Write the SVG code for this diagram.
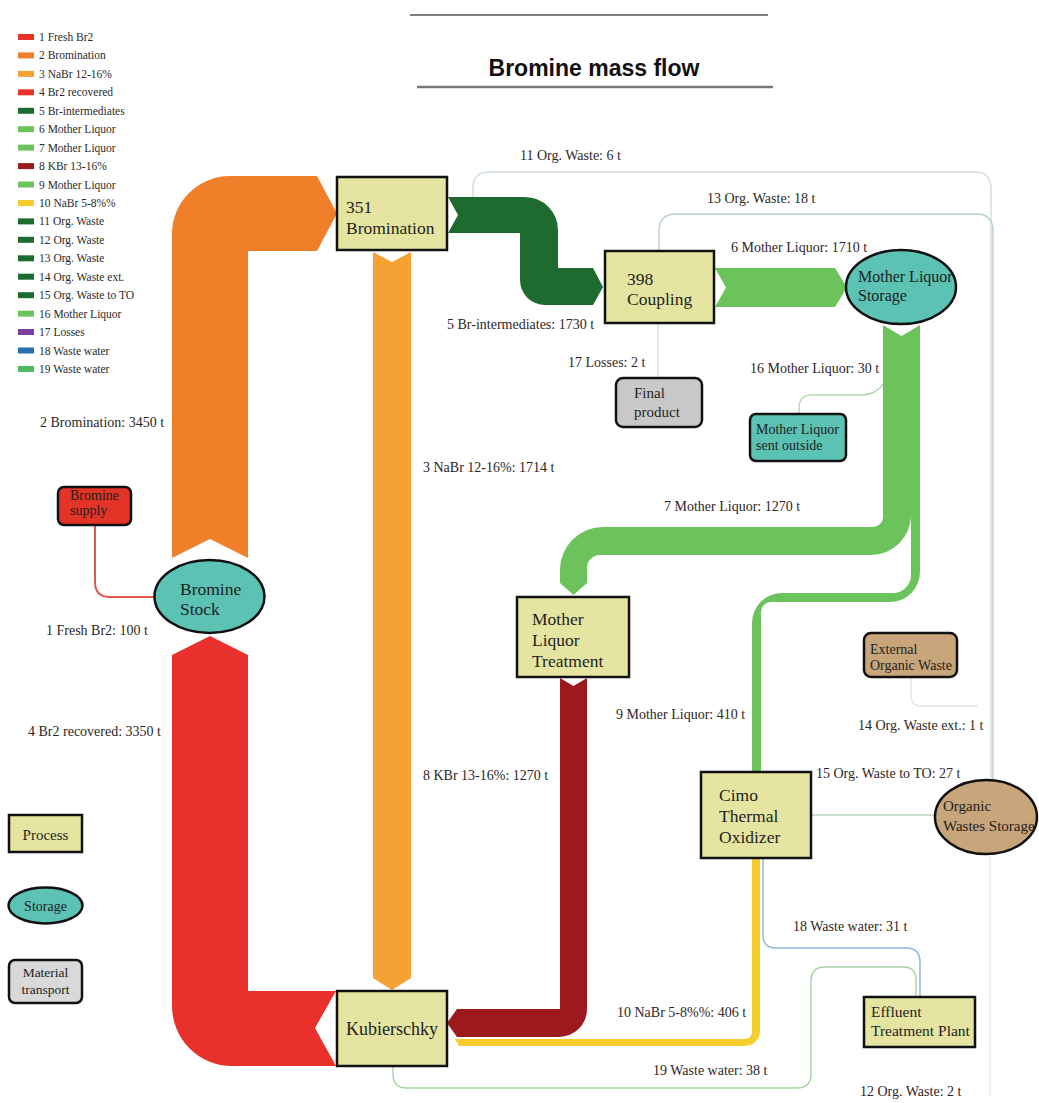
<svg xmlns="http://www.w3.org/2000/svg" width="1039" height="1103" viewBox="0 0 1039 1103">
<style>
.lbl{font-family:"Liberation Serif","Times New Roman",serif;font-size:14px;fill:#2e2626}
.lg{font-family:"Liberation Serif","Times New Roman",serif;font-size:11.5px;fill:#2a2a2a}
.nt{font-family:"Liberation Serif","Times New Roman",serif;fill:#1e1e1e}
.proc{fill:#e5e5a1;stroke:#111;stroke-width:2.5}
.stor{fill:#5bc2b4;stroke:#111;stroke-width:2.5}
.thin{fill:none;stroke-width:1.4}
</style>
<rect width="1039" height="1103" fill="#fff"/>
<g id="title">
<line x1="410" y1="15" x2="768" y2="15" stroke="#555" stroke-width="1.5"/>
<line x1="417" y1="87" x2="773" y2="87" stroke="#777" stroke-width="2.5"/>
<text x="594" y="76" text-anchor="middle" font-family="Liberation Sans,Arial,sans-serif" font-weight="bold" font-size="23" fill="#111">Bromine mass flow</text>
</g>
<g id="legend">
<rect x="18" y="34" width="16" height="6" fill="#e8312a"/><text class="lg" x="39" y="41">1 Fresh Br2</text>
<rect x="18" y="52.4" width="16" height="6" fill="#f07f2a"/><text class="lg" x="39" y="59.4">2 Bromination</text>
<rect x="18" y="70.9" width="16" height="6" fill="#f5a133"/><text class="lg" x="39" y="77.9">3 NaBr 12-16%</text>
<rect x="18" y="89.3" width="16" height="6" fill="#e8312a"/><text class="lg" x="39" y="96.3">4 Br2 recovered</text>
<rect x="18" y="107.8" width="16" height="6" fill="#1e6b30"/><text class="lg" x="39" y="114.8">5 Br-intermediates</text>
<rect x="18" y="126.2" width="16" height="6" fill="#6dc35b"/><text class="lg" x="39" y="133.2">6 Mother Liquor</text>
<rect x="18" y="144.6" width="16" height="6" fill="#6dc35b"/><text class="lg" x="39" y="151.6">7 Mother Liquor</text>
<rect x="18" y="163.1" width="16" height="6" fill="#9c1a1e"/><text class="lg" x="39" y="170.1">8 KBr 13-16%</text>
<rect x="18" y="181.5" width="16" height="6" fill="#6dc35b"/><text class="lg" x="39" y="188.5">9 Mother Liquor</text>
<rect x="18" y="200" width="16" height="6" fill="#f7cd2e"/><text class="lg" x="39" y="207">10 NaBr 5-8%%</text>
<rect x="18" y="218.4" width="16" height="6" fill="#1e6b30"/><text class="lg" x="39" y="225.4">11 Org. Waste</text>
<rect x="18" y="236.8" width="16" height="6" fill="#1e6b30"/><text class="lg" x="39" y="243.8">12 Org. Waste</text>
<rect x="18" y="255.3" width="16" height="6" fill="#1e6b30"/><text class="lg" x="39" y="262.3">13 Org. Waste</text>
<rect x="18" y="273.7" width="16" height="6" fill="#1e6b30"/><text class="lg" x="39" y="280.7">14 Org. Waste ext.</text>
<rect x="18" y="292.2" width="16" height="6" fill="#1e6b30"/><text class="lg" x="39" y="299.2">15 Org. Waste to TO</text>
<rect x="18" y="310.6" width="16" height="6" fill="#6dc35b"/><text class="lg" x="39" y="317.6">16 Mother Liquor</text>
<rect x="18" y="329" width="16" height="6" fill="#7b3f9e"/><text class="lg" x="39" y="336">17 Losses</text>
<rect x="18" y="347.5" width="16" height="6" fill="#2a70b0"/><text class="lg" x="39" y="354.5">18 Waste water</text>
<rect x="18" y="365.9" width="16" height="6" fill="#4cb860"/><text class="lg" x="39" y="372.9">19 Waste water</text>
<g id="legend-process"><rect class="proc" x="9" y="815" width="73" height="37"/><text class="nt" x="45.5" y="840" text-anchor="middle" font-size="15">Process</text></g>
<g id="legend-storage"><ellipse class="stor" cx="45.5" cy="905.5" rx="37" ry="18"/><text class="nt" x="45.5" y="911" text-anchor="middle" font-size="14">Storage</text></g>
<g id="legend-transport"><rect x="9" y="960" width="73" height="43" rx="6" fill="#d9d9d9" stroke="#111" stroke-width="2.5"/><text class="nt" x="45.5" y="977" text-anchor="middle" font-size="13.5">Material</text><text class="nt" x="45.5" y="994" text-anchor="middle" font-size="13.5">transport</text></g>
</g>
<g id="connectors">
<path id="f11" class="thin" stroke="#cfe0d2" d="M473,197 L473,188 Q473,172 489,172 L975,172 Q991,172 991,189 L991,780"/>
<path id="f13" class="thin" stroke="#b9d3bd" d="M659,251 L659,231 Q659,214 676,214 L976,214 Q993,214 993,231 L993,780"/>
<path id="f12" class="thin" stroke="#e4ece5" d="M990,856 L990,1095"/>
<path id="f14" class="thin" stroke="#dfe9e0" d="M911,677 L911,696 Q911,706 921,706 L978,706"/>
<path id="f15" class="thin" stroke="#b8d4bc" stroke-width="1.6" d="M812,815 L937,815"/>
<path id="f16" class="thin" stroke="#b4dcb0" d="M884,383 Q876,395 862,395 L812,395 Q799,395 799,408 L799,414"/>
<path id="f17" class="thin" stroke="#dedede" d="M658,323 L658,378"/>
<path id="f1" fill="none" stroke="#e2574c" stroke-width="2" d="M95,525 L95,582 Q95,597 110,597 L155,597"/>
<path id="f18" class="thin" stroke="#8fb3d6" d="M763,858 L763,935 Q763,948 776,948 L906,948 Q920,948 920,962 L920,997"/>
<path id="f19" class="thin" stroke="#a3d3a3" d="M916,997 L916,980 Q916,967 903,967 L825,967 Q811,967 811,981 L811,1074 Q811,1088 797,1088 L407,1088 Q393,1088 393,1074 L393,1066"/>
<path id="f2" fill="#f07f2a" d="M172,558 L172,234 A58,58 0 0 1 230,176 L317,176 L337,213.5 L317,251 L248,251 L248,558 L210,539 Z"/>
<path id="f4" fill="#e8312a" d="M172,655 L210,636 L248,655 L248,991 L336,991 L315,1028 L336,1066 L232,1066 A60,60 0 0 1 172,1006 Z"/>
<path id="f3" fill="#f5a133" d="M373,252 L392,262 L411,252 L411,978 L392,990 L373,978 Z"/>
<path id="f5" fill="#1e6b30" d="M448,197 L525,197 A33,33 0 0 1 558,230 L558,268 L593,268 L603,287 L593,305 L545,305 A25,25 0 0 1 520,280 L520,233 L448,233 L458,215 Z"/>
<path id="f6" fill="#6dc35b" d="M715,268 L835,268 L847,287.5 L835,307 L715,307 L726,287.5 Z"/>
<path id="f9" fill="#6dc35b" d="M911,330.4 L920,325 L920,572 A30,30 0 0 1 890,602 L771,602 A10,10 0 0 0 761,612 L761,772 L752,772 L752,623 A30,30 0 0 1 782,593 L893,593 A18,18 0 0 0 911,575 Z"/>
<path id="f7" fill="#6dc35b" d="M883,325 L901.5,336 L911,330.4 L911,515 A40,40 0 0 1 871,555 L600,555 A13,13 0 0 0 587,568 L587,583 L573.5,595 L560,583 L560,570 A43,43 0 0 1 603,527 L873,527 A10,10 0 0 0 883,517 Z"/>
<path id="f8" fill="#9c1a1e" d="M560,678 L573.5,686 L587,678 L587,1009 A28,28 0 0 1 559,1037 L457,1037 L447,1023 L457,1009 L560,1009 Z"/>
<path id="f10" fill="#f7cd2e" d="M752,858 L760,858 L760,1031 A15,15 0 0 1 745,1046 L459,1046 L455,1039 L745,1039 A7,7 0 0 0 752,1032 Z"/>
<text class="lbl" x="520" y="160">11 Org. Waste: 6 t</text>
<text class="lbl" x="707" y="203">13 Org. Waste: 18 t</text>
<text class="lbl" x="731" y="252">6 Mother Liquor: 1710 t</text>
<text class="lbl" x="447" y="329">5 Br-intermediates: 1730 t</text>
<text class="lbl" x="568" y="367">17 Losses: 2 t</text>
<text class="lbl" x="750" y="373">16 Mother Liquor: 30 t</text>
<text class="lbl" x="40" y="427">2 Bromination: 3450 t</text>
<text class="lbl" x="423" y="472">3 NaBr 12-16%: 1714 t</text>
<text class="lbl" x="664" y="511">7 Mother Liquor: 1270 t</text>
<text class="lbl" x="46" y="635">1 Fresh Br2: 100 t</text>
<text class="lbl" x="616" y="719">9 Mother Liquor: 410 t</text>
<text class="lbl" x="858" y="730">14 Org. Waste ext.: 1 t</text>
<text class="lbl" x="28" y="736">4 Br2 recovered: 3350 t</text>
<text class="lbl" x="423" y="780">8 KBr 13-16%: 1270 t</text>
<text class="lbl" x="816" y="778">15 Org. Waste to TO: 27 t</text>
<text class="lbl" x="793" y="931">18 Waste water: 31 t</text>
<text class="lbl" x="617" y="1017">10 NaBr 5-8%%: 406 t</text>
<text class="lbl" x="653" y="1075">19 Waste water: 38 t</text>
<text class="lbl" x="860" y="1096">12 Org. Waste: 2 t</text>
</g>
<g id="n-bromination"><rect class="proc" x="337" y="177" width="110" height="73"/><text class="nt" font-size="17.5" x="346" y="213">351</text><text class="nt" font-size="17.5" x="346" y="234">Bromination</text></g>
<g id="n-coupling"><rect class="proc" x="605" y="251" width="109" height="72"/><text class="nt" font-size="17.5" x="627" y="285">398</text><text class="nt" font-size="17.5" x="627" y="305">Coupling</text></g>
<g id="n-mls"><ellipse class="stor" cx="901" cy="287" rx="55" ry="37"/><text class="nt" font-size="16" x="858" y="282">Mother Liquor</text><text class="nt" font-size="16" x="858" y="301">Storage</text></g>
<g id="n-final"><rect x="616" y="378" width="86" height="49" rx="7" fill="#c8c8c8" stroke="#111" stroke-width="2.5"/><text class="nt" font-size="15" x="634" y="398">Final</text><text class="nt" font-size="15" x="634" y="417">product</text></g>
<g id="n-mlout"><rect x="750" y="414" width="96" height="47" rx="6" fill="#5bc2b4" stroke="#111" stroke-width="2.5"/><text class="nt" font-size="14" x="756" y="434">Mother Liquor</text><text class="nt" font-size="14" x="756" y="450">sent outside</text></g>
<g id="n-brsupply"><rect x="58" y="487" width="73" height="38" rx="6" fill="#e43427" stroke="#111" stroke-width="2.5"/><text class="nt" font-size="14" x="70" y="500" fill="#4a0f0f">Bromine</text><text class="nt" font-size="14" x="70" y="515" fill="#4a0f0f">supply</text></g>
<g id="n-brstock"><ellipse class="stor" cx="209.5" cy="596.5" rx="55" ry="36.5"/><text class="nt" font-size="17.5" x="180" y="595">Bromine</text><text class="nt" font-size="17.5" x="180" y="615">Stock</text></g>
<g id="n-mlt"><rect class="proc" x="517" y="597" width="112" height="80"/><text class="nt" font-size="17.5" x="532" y="625">Mother</text><text class="nt" font-size="17.5" x="532" y="646">Liquor</text><text class="nt" font-size="17.5" x="532" y="667">Treatment</text></g>
<g id="n-eow"><rect x="864" y="633" width="93" height="44" rx="7" fill="#c8a57b" stroke="#111" stroke-width="2.5"/><text class="nt" font-size="14" x="870" y="654">External</text><text class="nt" font-size="14" x="870" y="670">Organic Waste</text></g>
<g id="n-cimo"><rect class="proc" x="701" y="772" width="110" height="86"/><text class="nt" font-size="17.5" x="719" y="801">Cimo</text><text class="nt" font-size="17.5" x="719" y="822">Thermal</text><text class="nt" font-size="17.5" x="719" y="843">Oxidizer</text></g>
<g id="n-ows"><ellipse cx="986" cy="817" rx="51" ry="37" fill="#c8a57b" stroke="#111" stroke-width="2.5"/><text class="nt" font-size="15" x="943" y="811">Organic</text><text class="nt" font-size="15" x="943" y="831">Wastes Storage</text></g>
<g id="n-etp"><rect class="proc" x="864" y="997" width="111" height="50"/><text class="nt" font-size="15.5" x="871" y="1017">Effluent</text><text class="nt" font-size="15.5" x="871" y="1036">Treatment Plant</text></g>
<g id="n-kub"><rect class="proc" x="337" y="991" width="110" height="75"/><text class="nt" font-size="18" x="392" y="1035" text-anchor="middle">Kubierschky</text></g>
</svg>
